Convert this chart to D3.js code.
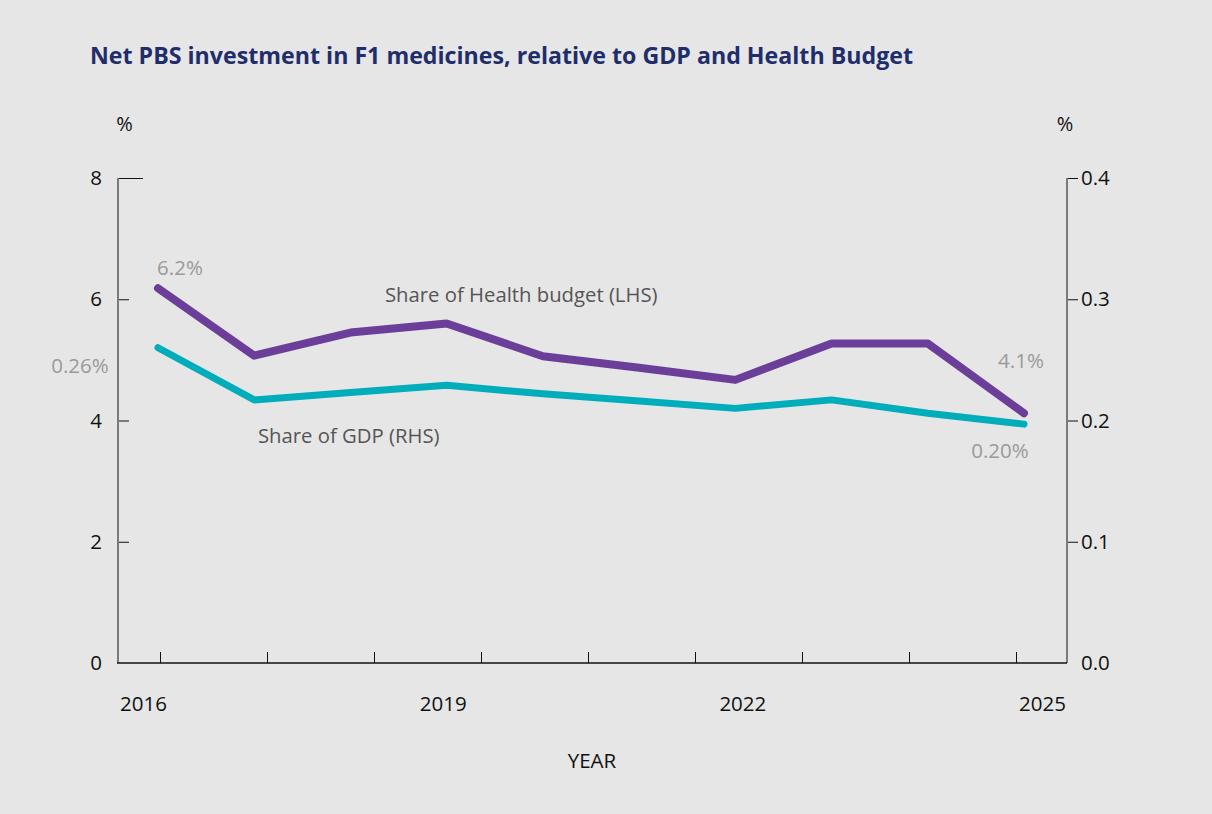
<!DOCTYPE html>
<html>
<head>
<meta charset="utf-8">
<script src="https://cdn.jsdelivr.net/npm/d3@7"></script>
<style>
  html, body { margin: 0; padding: 0; background: #e6e6e6; }
  svg { display: block; font-family: "Open Sans", sans-serif; }
</style>
</head>
<body>
<div class="chart"></div>
<script>
// data
const years = [2016, 2017, 2018, 2019, 2020, 2021, 2022, 2023, 2024, 2025];
const healthShare = [6.18, 5.07, 5.45, 5.6, 5.06, 4.87, 4.67, 5.27, 5.27, 4.12];   // LHS, %
const gdpShare = [0.26, 0.217, 0.223, 0.229, 0.222, 0.216, 0.21, 0.217, 0.206, 0.197]; // RHS, %
const labelYears = [2016, 2019, 2022, 2025];
const tickSlots = [0, 1, 2, 3, 4, 5, 6, 7, 8];
const leftTicks = [0, 2, 4, 6, 8];
const rightTicks = [0, 0.1, 0.2, 0.3, 0.4];

const W = 1212, H = 814;
const svg = d3.select(".chart").append("svg")
    .attr("width", W).attr("height", H);

svg.append("rect").attr("width", W).attr("height", H).attr("fill", "#e6e6e6");

// plot edges
const plotLeft = 118, plotRight = 1067, plotBottom = 663, plotTop = 178;
const yL = d3.scaleLinear().domain([0, 8]).range([plotBottom, plotTop]);
const yR = d3.scaleLinear().domain([0, 0.4]).range([plotBottom, plotTop]);
const x = d3.scaleLinear().domain([2016, 2025]).range([158, 1024]);
const xLabel = d3.scaleLinear().domain([2016, 2025]).range([143, 1042]);
const xTick = d3.scaleLinear().domain([0, 8]).range([160, 1016]);

// title
svg.append("text")
    .attr("x", 90).attr("y", 64)
    .attr("fill", "#1f2d6b")
    .attr("font-size", 23)
    .attr("font-weight", 700)
    .attr("textLength", 823)
    .attr("lengthAdjust", "spacingAndGlyphs")
    .text("Net PBS investment in F1 medicines, relative to GDP and Health Budget");

// unit labels
svg.append("text").attr("x", 124.5).attr("y", 131).attr("text-anchor", "middle")
    .attr("font-size", 20).attr("fill", "#111").text("%");
svg.append("text").attr("x", 1065).attr("y", 131).attr("text-anchor", "middle")
    .attr("font-size", 20).attr("fill", "#111").text("%");

// left axis
const gL = svg.append("g").attr("transform", `translate(${plotLeft},0)`)
    .call(d3.axisLeft(yL).tickValues(leftTicks).tickSize(-11).tickPadding(16));
gL.select(".domain").remove();
gL.selectAll(".tick line").attr("stroke", "#111")
    .attr("x2", d => d === 8 ? 25 : (d === 0 ? 0 : 11));
gL.selectAll(".tick text").attr("font-size", 20.5).attr("fill", "#111")
    .attr("font-family", "Open Sans, sans-serif");

// right axis
const gR = svg.append("g").attr("transform", `translate(${plotRight},0)`)
    .call(d3.axisRight(yR).tickValues(rightTicks).tickSize(11).tickPadding(3).tickFormat(d3.format(".1f")));
gR.select(".domain").remove();
gR.selectAll(".tick line").attr("stroke", "#111")
    .attr("x2", d => d === 0 ? 0 : 11);
gR.selectAll(".tick text").attr("font-size", 20.5).attr("fill", "#111")
    .attr("font-family", "Open Sans, sans-serif");

// axis frame lines
svg.append("line").attr("x1", plotLeft).attr("x2", plotLeft).attr("y1", plotTop).attr("y2", plotBottom)
    .attr("stroke", "#7a7a7a").attr("stroke-width", 2);
svg.append("line").attr("x1", plotRight).attr("x2", plotRight).attr("y1", plotTop).attr("y2", plotBottom)
    .attr("stroke", "#7a7a7a").attr("stroke-width", 2);

// bottom ticks
const gT = svg.append("g").attr("transform", `translate(0,${plotBottom})`)
    .call(d3.axisBottom(xTick).tickValues(tickSlots).tickSize(-11).tickFormat(""));
gT.select(".domain").remove();
gT.selectAll(".tick line").attr("stroke", "#111");
svg.append("line").attr("x1", plotLeft - 1).attr("x2", plotRight).attr("y1", plotBottom).attr("y2", plotBottom)
    .attr("stroke", "#111").attr("stroke-width", 1.5);

// bottom labels
const gX = svg.append("g").attr("transform", `translate(0,${plotBottom})`)
    .call(d3.axisBottom(xLabel).tickValues(labelYears).tickSize(0).tickPadding(33).tickFormat(d3.format("d")));
gX.select(".domain").remove();
gX.selectAll(".tick text").attr("font-size", 20.5).attr("fill", "#111")
    .attr("font-family", "Open Sans, sans-serif");

svg.append("text").attr("x", 592).attr("y", 768).attr("text-anchor", "middle")
    .attr("font-size", 20.5).attr("fill", "#111").text("YEAR");

// lines
const lineL = d3.line().x((d, i) => x(years[i])).y(d => yL(d));
const lineR = d3.line().x((d, i) => x(years[i])).y(d => yR(d));

svg.append("path").datum(gdpShare).attr("d", lineR)
    .attr("fill", "none").attr("stroke", "#00adbb").attr("stroke-width", 7)
    .attr("stroke-linecap", "round").attr("stroke-linejoin", "round");
svg.append("path").datum(healthShare).attr("d", lineL)
    .attr("fill", "none").attr("stroke", "#6b3f99").attr("stroke-width", 8)
    .attr("stroke-linecap", "round").attr("stroke-linejoin", "round");

// series labels
svg.append("text").attr("x", 385).attr("y", 302).attr("font-size", 20.3)
    .attr("fill", "#555").text("Share of Health budget (LHS)");
svg.append("text").attr("x", 258).attr("y", 443).attr("font-size", 20.3)
    .attr("fill", "#555").text("Share of GDP (RHS)");

// value labels
const valColor = "#9a9a9a";
svg.append("text").attr("x", 180).attr("y", 275).attr("text-anchor", "middle")
    .attr("font-size", 20.5).attr("fill", valColor).text(d3.format(".1f")(healthShare[0]) + "%");
svg.append("text").attr("x", 80).attr("y", 373).attr("text-anchor", "middle")
    .attr("font-size", 20.5).attr("fill", valColor).text(d3.format(".2f")(gdpShare[0]) + "%");
svg.append("text").attr("x", 1021).attr("y", 368).attr("text-anchor", "middle")
    .attr("font-size", 20.5).attr("fill", valColor).text(d3.format(".1f")(healthShare[9]) + "%");
svg.append("text").attr("x", 1000).attr("y", 458).attr("text-anchor", "middle")
    .attr("font-size", 20.5).attr("fill", valColor).text(d3.format(".2f")(gdpShare[9]) + "%");
</script>
</body>
</html>
